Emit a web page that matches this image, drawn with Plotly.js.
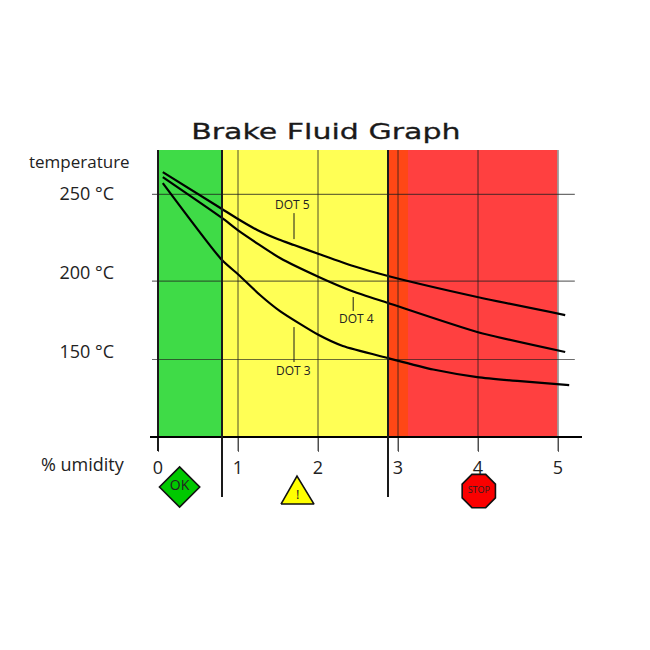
<!DOCTYPE html>
<html>
<head>
<meta charset="utf-8">
<script src="https://cdn.plot.ly/plotly-3.0.1.min.js"></script>
<style>
html,body{margin:0;padding:0;background:#fff}#chart{width:650px;height:650px}
.gtitle{transform-box:fill-box;transform-origin:center;transform:scaleX(1.365);stroke:#1a1a1a;stroke-width:.3px}
</style>
</head>
<body>
<div id="chart"></div>
<script>
// Humidity (%) and temperature (°C).
// The reference's temperature scale is slightly uneven: its "250" line sits near 255 on a linear scale.
var dot5X = [0.06, 0.80, 1.01, 1.24, 1.51, 1.70, 2.01, 2.44, 2.875, 3.99, 5.09];
var dot5Y = [269.2, 245.6, 238.9, 232.2, 226.1, 222.6, 216.9, 209.2, 202.8, 189.4, 177.9];
var dot4X = [0.06, 0.80, 1.01, 1.525, 2.01, 2.44, 2.875, 3.99, 5.09];
var dot4Y = [266.0, 239.9, 231.6, 214.3, 202.2, 192.9, 185.6, 167.1, 154.3];
var dot3X = [0.06, 0.80, 1.01, 1.275, 1.525, 2.01, 2.31, 2.875, 3.44, 3.99, 4.49, 5.14];
var dot3Y = [262.2, 213.0, 203.5, 190.7, 180.4, 165.1, 158.1, 150.4, 143.1, 138.3, 135.8, 133.2];

var xTicks = [0, 1, 2, 3, 4, 5];
var xTickLabels = ['0', '1', '2', '3', '4', '5'];
var yGridLines = [254.9, 199.6, 149.5];
var yLabelPositions = [255.2, 204.7, 154.3];
var yLabels = ['250 °C', '200 °C', '150 °C'];

var zoneEdges = [0, 0.8, 2.875, 3.125, 4.99];
var zoneColors = ['#3fdb47', '#ffff55', '#ff4716', '#ff4040'];
var dividers = [0.8, 2.875];

var signX = [0.27, 4.01];
var signY = [68.1, 65.5];
var signLabels = ['OK', 'STOP'];
var warnX = [1.5375, 1.95, 1.7375, 1.5375];
var warnY = [57.2, 57.2, 75.1, 57.2];

var YTOP = 283.3, YBOTTOM = 53.4, YAXIS = 100, YDIVIDER = 61.7, YTICKEND = 91;
var ink = '#1a1a1a', gridInk = 'rgba(30,30,30,0.65)', textInk = '#222222';
var font = 'Open Sans, sans-serif';

function curve(x, y, name) {
  return {type: 'scatter', mode: 'lines', name: name, x: x, y: y,
          line: {color: '#000', width: 2.2, shape: 'spline', smoothing: 0.6},
          hoverinfo: 'name+x+y', cliponaxis: false};
}

var traces = [
  curve(dot5X, dot5Y, 'DOT 5'),
  curve(dot4X, dot4Y, 'DOT 4'),
  curve(dot3X, dot3Y, 'DOT 3'),
  {type: 'scatter', mode: 'lines', x: warnX, y: warnY, fill: 'toself', fillcolor: '#ffff00',
   line: {color: '#111', width: 1.6}, hoverinfo: 'skip'},
  {type: 'scatter', mode: 'markers+text', x: signX, y: signY, text: signLabels,
   textposition: 'middle center', cliponaxis: false, hoverinfo: 'text',
   textfont: {family: font, color: textInk, size: [14, 9]},
   marker: {symbol: ['diamond', 'octagon'], size: [31, 36], color: ['#00c800', '#fa0000'], opacity: 1,
            line: {color: '#111', width: 1.6}}}
];

var shapes = [];
zoneColors.forEach(function (c, i) {
  shapes.push({type: 'rect', layer: 'below', xref: 'x', yref: 'y', x0: zoneEdges[i], x1: zoneEdges[i + 1],
               y0: YAXIS, y1: YTOP, fillcolor: c, line: {width: 0}});
});
yGridLines.forEach(function (v) {
  shapes.push({type: 'line', layer: 'below', xref: 'x', yref: 'y', x0: -0.075, x1: 5.21, y0: v, y1: v,
               line: {color: gridInk, width: 1.2}});
});
xTicks.forEach(function (v) {
  shapes.push({type: 'line', layer: 'below', xref: 'x', yref: 'y', x0: v, x1: v, y0: YTICKEND, y1: YTOP,
               line: {color: v === 0 ? ink : gridInk, width: v === 0 ? 2 : 1.2}});
});
dividers.forEach(function (v) {
  shapes.push({type: 'line', xref: 'x', yref: 'y', x0: v, x1: v, y0: YDIVIDER, y1: YTOP,
               line: {color: ink, width: 2}});
});
// Leader lines from the DOT labels to their curves
[[1.7, 226.4, 243], [2.44, 180.5, 189.4], [1.7, 147.9, 170.2]].forEach(function (s) {
  shapes.push({type: 'line', xref: 'x', yref: 'y', x0: s[0], x1: s[0], y0: s[1], y1: s[2],
               line: {color: ink, width: 1}});
});

function label(x, y, text, size) {
  return {xref: 'x', yref: 'y', x: x, y: y, text: text, showarrow: false,
          font: {family: font, size: size, color: textInk}};
}

var annotations = [
  label(1.675, 248.4, 'DOT 5', 12),
  label(2.48, 176, 'DOT 4', 12),
  label(1.69, 142.7, 'DOT 3', 12),
  label(1.7375, 63.6, '!', 13),
  {xref: 'paper', yref: 'paper', x: -0.284, xanchor: 'left', y: (510 - 161) / 360, yanchor: 'middle',
   text: 'temperature', showarrow: false, font: {family: font, size: 17, color: textInk}},
  {xref: 'paper', yref: 'paper', x: -0.257, xanchor: 'left', y: (510 - 464) / 360, yanchor: 'middle',
   text: '% umidity', showarrow: false, font: {family: font, size: 18, color: textInk}}
];

var layout = {
  width: 650, height: 650, showlegend: false,
  paper_bgcolor: '#fff', plot_bgcolor: '#fff',
  margin: {l: 150, r: 68, t: 150, b: 140, pad: 0},
  title: {text: 'Brake Fluid Graph', xref: 'paper', x: 0.407, xanchor: 'center',
          yref: 'container', y: 0.798, yanchor: 'middle',
          font: {family: 'DejaVu Sans, sans-serif', size: 22, color: '#1a1a1a'}},
  xaxis: {range: [-0.1, 5.3], anchor: 'free', position: 73 / 360, tickvals: xTicks, ticktext: xTickLabels,
          ticks: 'outside', ticklen: 14, tickcolor: gridInk, tickwidth: 1,
          showgrid: false, zeroline: false, showline: true, linecolor: '#000', linewidth: 2,
          tickfont: {family: font, size: 18, color: textInk}, fixedrange: true},
  yaxis: {range: [YBOTTOM, YTOP], tickvals: yLabelPositions, ticktext: yLabels, ticks: '',
          ticklabelstandoff: 35, showgrid: false, zeroline: false, showline: false,
          tickfont: {family: font, size: 18, color: textInk}, fixedrange: true},
  shapes: shapes,
  annotations: annotations
};

Plotly.newPlot('chart', traces, layout, {displayModeBar: false, responsive: false});
</script>
</body>
</html>
